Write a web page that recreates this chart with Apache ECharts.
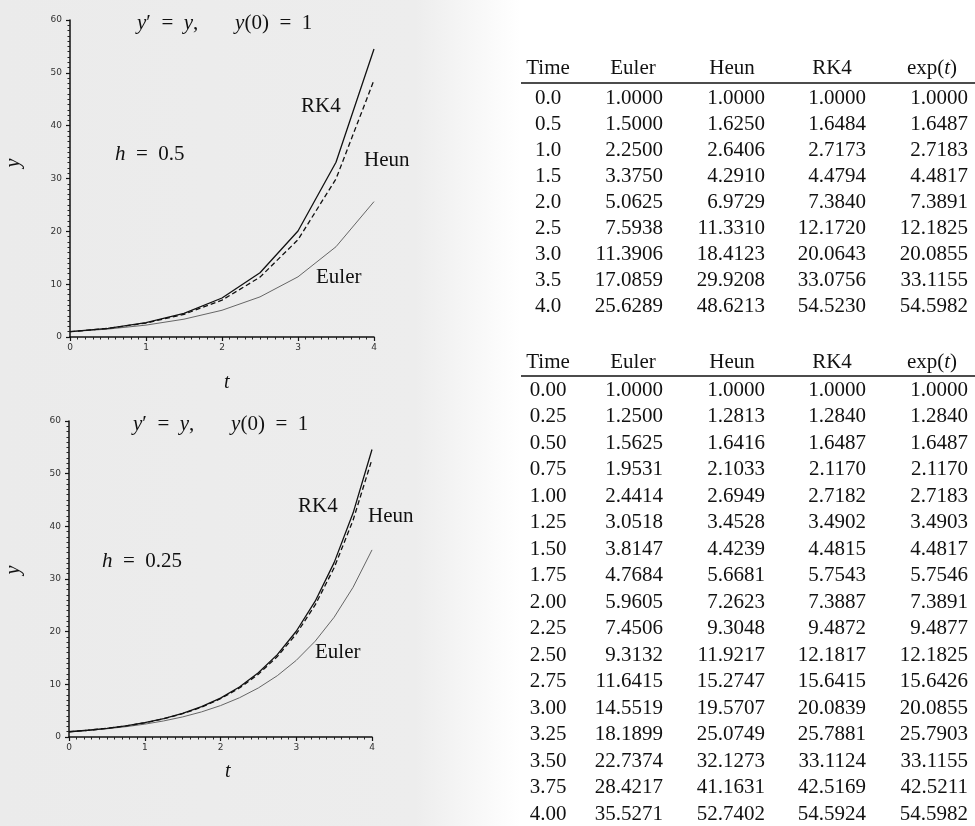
<!DOCTYPE html>
<html>
<head>
<meta charset="utf-8">
<script src="https://cdn.jsdelivr.net/npm/echarts@6/dist/echarts.min.js"></script>
<style>
html,body{margin:0;padding:0;background:#fff;}
#chart{width:975px;height:826px;}
</style>
</head>
<body>
<div id="chart"></div>
<script>
// ---------- data ----------
const time05 = [0.0, 0.5, 1.0, 1.5, 2.0, 2.5, 3.0, 3.5, 4.0];
const euler05 = [1.0000, 1.5000, 2.2500, 3.3750, 5.0625, 7.5938, 11.3906, 17.0859, 25.6289];
const heun05 = [1.0000, 1.6250, 2.6406, 4.2910, 6.9729, 11.3310, 18.4123, 29.9208, 48.6213];
const rk4_05 = [1.0000, 1.6484, 2.7173, 4.4794, 7.3840, 12.1720, 20.0643, 33.0756, 54.5230];
const exp05 = [1.0000, 1.6487, 2.7183, 4.4817, 7.3891, 12.1825, 20.0855, 33.1155, 54.5982];

const time025 = [0.00, 0.25, 0.50, 0.75, 1.00, 1.25, 1.50, 1.75, 2.00, 2.25, 2.50, 2.75, 3.00, 3.25, 3.50, 3.75, 4.00];
const euler025 = [1.0000, 1.2500, 1.5625, 1.9531, 2.4414, 3.0518, 3.8147, 4.7684, 5.9605, 7.4506, 9.3132, 11.6415, 14.5519, 18.1899, 22.7374, 28.4217, 35.5271];
const heun025 = [1.0000, 1.2813, 1.6416, 2.1033, 2.6949, 3.4528, 4.4239, 5.6681, 7.2623, 9.3048, 11.9217, 15.2747, 19.5707, 25.0749, 32.1273, 41.1631, 52.7402];
const rk4_025 = [1.0000, 1.2840, 1.6487, 2.1170, 2.7182, 3.4902, 4.4815, 5.7543, 7.3887, 9.4872, 12.1817, 15.6415, 20.0839, 25.7881, 33.1124, 42.5169, 54.5924];
const exp025 = [1.0000, 1.2840, 1.6487, 2.1170, 2.7183, 3.4903, 4.4817, 5.7546, 7.3891, 9.4877, 12.1825, 15.6426, 20.0855, 25.7903, 33.1155, 42.5211, 54.5982];

const tableHeaders = ['Time', 'Euler', 'Heun', 'RK4', 'exp(t)'];
const stepValues = ['0.5', '0.25'];
const curveLabels = ['RK4', 'Heun', 'Euler'];

// ---------- helpers ----------
const SERIF = '"Liberation Serif", "DejaVu Serif", serif';
function pairs(t, v) { return t.map((x, i) => [x, v[i]]); }

const chart = echarts.init(document.getElementById('chart'), null, {renderer: 'canvas'});

const grids = [
  {left: 70, top: 20, width: 304, height: 317},
  {left: 69, top: 421, width: 303, height: 316}
];

function xAx(gi) {
  return {
    type: 'value', gridIndex: gi, min: 0, max: 4, interval: 1,
    axisLine: {show: true, onZero: false, lineStyle: {color: '#111', width: 1.5}},
    axisTick: {show: true, length: 4, lineStyle: {color: '#111', width: 1.2}},
    minorTick: {show: true, splitNumber: 10, length: 2.5, lineStyle: {color: '#222', width: 1}},
    splitLine: {show: false},
    axisLabel: {color: '#333', fontSize: 9, fontFamily: 'DejaVu Sans', margin: 6}
  };
}
function yAx(gi) {
  return {
    type: 'value', gridIndex: gi, min: 0, max: 60, interval: 10,
    axisLine: {show: true, onZero: false, lineStyle: {color: '#111', width: 1.5}},
    axisTick: {show: true, length: 4, lineStyle: {color: '#111', width: 1.2}},
    minorTick: {show: true, splitNumber: 10, length: 2.5, lineStyle: {color: '#222', width: 1}},
    splitLine: {show: false},
    axisLabel: {color: '#333', fontSize: 9, fontFamily: 'DejaVu Sans', margin: 8}
  };
}

function lineSeries(gi, t, v, style, name) {
  return {
    type: 'line', name: name, xAxisIndex: gi, yAxisIndex: gi,
    data: pairs(t, v), showSymbol: false, symbol: 'none', smooth: false,
    lineStyle: style, silent: true, animation: false, z: 3
  };
}
const rkStyle = {color: '#111', width: 1.3, type: 'solid'};
const heunStyle = {color: '#111', width: 1.3, type: [5, 3]};
const eulerStyle = {color: '#666', width: 1, type: 'solid'};

// ---------- graphic (texts, tables, background) ----------
const g = [];
g.push({
  type: 'rect', z: -10, silent: true,
  shape: {x: 0, y: 0, width: 520, height: 826},
  style: {fill: new echarts.graphic.LinearGradient(0, 0, 1, 0, [
    {offset: 0, color: '#ebebeb'}, {offset: 0.8, color: '#ededed'}, {offset: 1, color: '#ffffff'}
  ])}
});

function txt(x, y, text, opts) {
  g.push(Object.assign({
    type: 'text', z: 10, silent: true, x: x, y: y,
    style: Object.assign({text: text, font: '21px ' + SERIF, fill: '#111',
      textAlign: 'left', textVerticalAlign: 'middle'}, opts && opts.style || {})
  }, opts && opts.el || {}));
}
const italicRich = {i: {fontStyle: 'italic', fontFamily: SERIF, fontSize: 21, fill: '#111'}};
function richTitle(x, y) {
  g.push({
    type: 'text', z: 10, silent: true, x: x, y: y,
    style: {
      text: '{i|y}′  =  {i|y},       {i|y}(0)  =  1',
      font: '21px ' + SERIF, fill: '#111', textAlign: 'left', textVerticalAlign: 'middle',
      rich: italicRich
    }
  });
}
function hLabel(x, y, num) {
  g.push({
    type: 'text', z: 10, silent: true, x: x, y: y,
    style: {
      text: '{i|h}  =  ' + num, font: '21px ' + SERIF, fill: '#111',
      textAlign: 'left', textVerticalAlign: 'middle', rich: italicRich
    }
  });
}

// top chart annotations
richTitle(137, 23);
hLabel(115, 154, stepValues[0]);
txt(301, 106, curveLabels[0]);
txt(364, 160, curveLabels[1]);
txt(316, 277, curveLabels[2]);
txt(224, 383, 't', {style: {font: 'italic 20px ' + SERIF}});
txt(14, 163, 'y', {style: {font: 'italic 20px ' + SERIF, textAlign: 'center'}, el: {rotation: Math.PI / 2}});

// bottom chart annotations
richTitle(133, 424);
hLabel(102, 561, stepValues[1]);
txt(298, 506, curveLabels[0]);
txt(368, 516, curveLabels[1]);
txt(315, 652, curveLabels[2]);
txt(225, 772, 't', {style: {font: 'italic 20px ' + SERIF}});
txt(14, 570, 'y', {style: {font: 'italic 20px ' + SERIF, textAlign: 'center'}, el: {rotation: Math.PI / 2}});

// tables
const headerCenters = [548, 633, 732, 832, 932];
const colRight = [663, 765, 866, 968];
function table(headerY, ruleY, row0Y, step, times, cols, tDigits) {
  tableHeaders.forEach((h, i) => {
    if (h === 'exp(t)') {
      g.push({
        type: 'text', z: 10, silent: true, x: headerCenters[i], y: headerY,
        style: {text: 'exp({i|t})', font: '21px ' + SERIF, fill: '#111',
          textAlign: 'center', textVerticalAlign: 'middle', rich: italicRich}
      });
    } else {
      txt(headerCenters[i], headerY, h, {style: {textAlign: 'center'}});
    }
  });
  g.push({type: 'line', z: 10, silent: true,
    shape: {x1: 521, y1: ruleY, x2: 975, y2: ruleY},
    style: {stroke: '#111', lineWidth: 1.6}});
  times.forEach((t, r) => {
    const y = row0Y + r * step;
    txt(548, y, t.toFixed(tDigits), {style: {textAlign: 'center'}});
    cols.forEach((c, k) => {
      txt(colRight[k], y, c[r].toFixed(4), {style: {textAlign: 'right'}});
    });
  });
}
table(68, 83, 98, 26, time05, [euler05, heun05, rk4_05, exp05], 1);
table(362, 376, 390, 26.5, time025, [euler025, heun025, rk4_025, exp025], 2);

const option = {
  backgroundColor: '#ffffff',
  animation: false,
  grid: grids,
  xAxis: [xAx(0), xAx(1)],
  yAxis: [yAx(0), yAx(1)],
  series: [
    lineSeries(0, time05, euler05, eulerStyle, 'Euler'),
    lineSeries(0, time05, heun05, heunStyle, 'Heun'),
    lineSeries(0, time05, rk4_05, rkStyle, 'RK4'),
    lineSeries(1, time025, euler025, eulerStyle, 'Euler'),
    lineSeries(1, time025, heun025, heunStyle, 'Heun'),
    lineSeries(1, time025, rk4_025, rkStyle, 'RK4')
  ],
  graphic: g
};
chart.setOption(option);
</script>
</body>
</html>
